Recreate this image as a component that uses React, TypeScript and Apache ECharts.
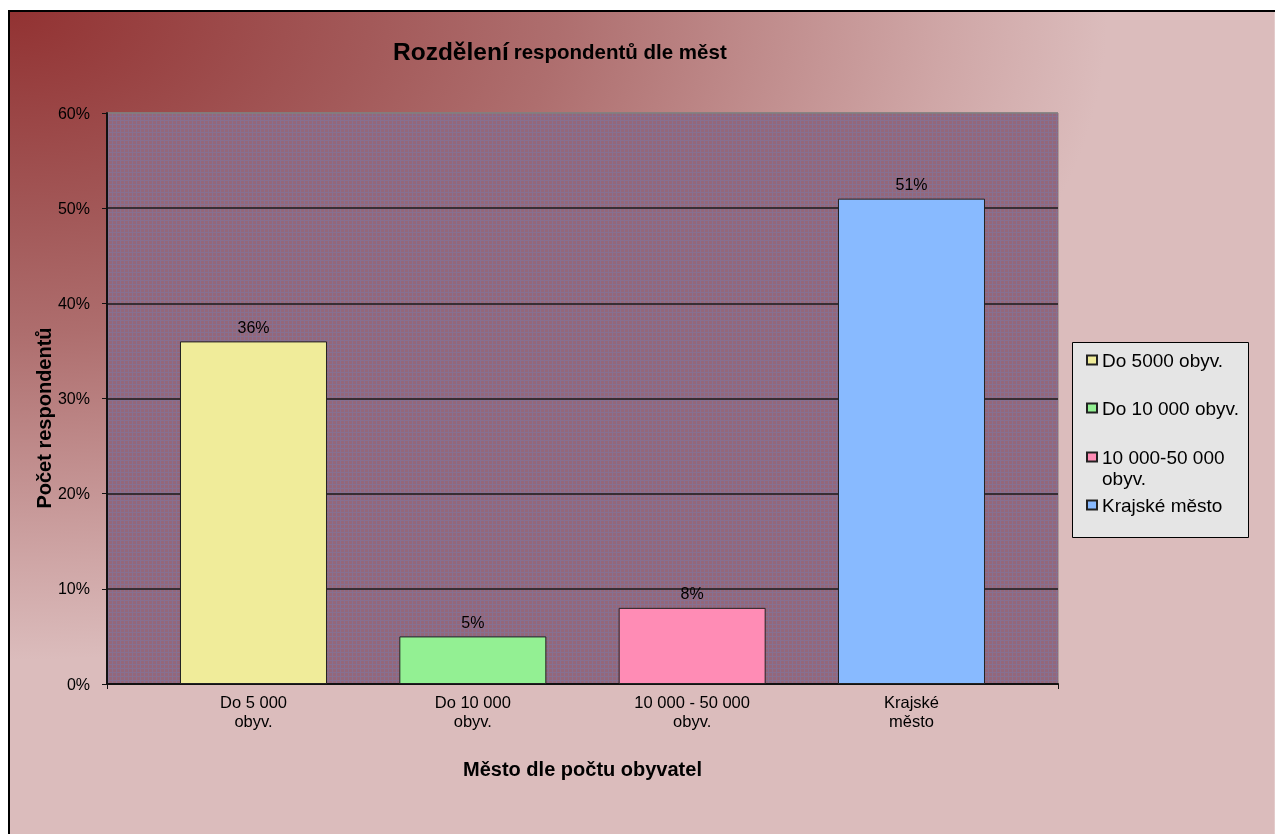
import React, { useEffect, useRef } from "react";
import * as echarts from "echarts";

// Category labels under the bars
const categories = ["Do 5 000\nobyv.", "Do 10 000\nobyv.", "10 000 - 50 000\nobyv.", "Krajské\nměsto"];
// Legend / series names
const seriesNames = ["Do 5000 obyv.", "Do 10 000 obyv.", "10 000-50 000 obyv.", "Krajské město"];
// Share of respondents, in percent
const shares = [36, 5, 8, 51];
const barColors = ["#F0EC9A", "#93F093", "#FF8CB5", "#88BAFF"];
// Value axis range and step (percent)
const yMin = 0;
const yMax = 60;
const yStep = 10;

const FONT = "'Liberation Sans', Arial, Helvetica, sans-serif";
const W = 1267;
const H = 826;

// Plot rectangle (chart pixels)
const PLOT = { left: 99, top: 105, width: 951, height: 571 };

// Legend item tops (one legend per item so the spacing can follow the boxed layout)
const legendTops = [341.5, 389.5, 438.5, 486.5];

// Square marker whose box is stretched downward by a trailing move-to, so the
// square sits beside the first line of a two-line legend label.
const TALL_ICON = "path://M0,0L10,0L10,9L0,9Z M0,30";

// Small tile for the fine cross-hatched plot fill
function makeHatchTile(): string {
  const c = document.createElement("canvas");
  c.width = 4;
  c.height = 4;
  const g = c.getContext("2d");
  if (!g) return "";
  g.fillStyle = "#94677a";
  g.fillRect(0, 0, 4, 4);
  g.fillStyle = "#867091";
  g.fillRect(0, 0, 4, 1);
  g.fillRect(0, 0, 1, 4);
  return c.toDataURL();
}

export default function App() {
  const ref = useRef<HTMLDivElement>(null);

  useEffect(() => {
    if (!ref.current) return;
    const chart = echarts.init(ref.current, undefined, { renderer: "svg" });

    const SX = 1100 / 650;
    const bgStops = [
      { offset: 0, color: "#923232" },
      { offset: 0.33, color: "#a35959" },
      { offset: 0.5, color: "#ae6e6e" },
      { offset: 0.85, color: "#cfa6a6" },
      { offset: 1, color: "#dbbcbc" },
    ];

    const tile = makeHatchTile();

    const series = seriesNames.map((name, i) => ({
      name,
      type: "bar",
      xAxisIndex: 0,
      yAxisIndex: 0,
      stack: "all",
      barWidth: 147,
      z: 3,
      data: categories.map((_, j) => (j === i ? shares[i] : "-")),
      itemStyle: { color: barColors[i], borderColor: "#222", borderWidth: 1 },
      label: {
        show: true,
        position: "top",
        distance: 6,
        color: "#000",
        fontSize: 16,
        fontFamily: FONT,
        formatter: (p: any) => `${p.value}%`,
      },
    }));

    const legends = seriesNames.map((name, i) => {
      const twoLine = name === "10 000-50 000 obyv.";
      return {
        data: [name],
        orient: "vertical",
        left: 1078,
        top: legendTops[i],
        padding: 0,
        itemWidth: 10,
        itemHeight: twoLine ? 30 : 9,
        icon: twoLine ? TALL_ICON : "rect",
        selectedMode: false,
        z: 6,
        formatter: (n: string) => (n === "10 000-50 000 obyv." ? "10 000-50 000\nobyv." : n),
        textStyle: {
          fontSize: 19,
          fontFamily: FONT,
          color: "#000",
          lineHeight: 21,
        },
      };
    });

    chart.setOption({
      animation: false,
      title: {
        text: "{a|Rozdělení} {b|respondentů dle měst}",
        left: 385,
        top: 29,
        padding: 0,
        textStyle: {
          rich: {
            a: { fontSize: 24.5, fontWeight: "bold", fontFamily: FONT, color: "#000", lineHeight: 28 },
            b: { fontSize: 20.5, fontWeight: "bold", fontFamily: FONT, color: "#000", lineHeight: 28 },
          },
        },
      },
      legend: legends,
      graphic: [
        {
          type: "rect",
          z: -5,
          silent: true,
          x: 0,
          y: 2,
          scaleX: SX,
          shape: { x: 0, y: 0, width: W / SX, height: H },
          style: { fill: new echarts.graphic.RadialGradient(0, 0, 650, bgStops, true) },
        },
        {
          type: "rect",
          z: 1,
          silent: true,
          shape: { x: PLOT.left, y: PLOT.top, width: PLOT.width, height: PLOT.height },
          style: tile ? { fill: { image: tile, repeat: "repeat" } } : { fill: "#8d6b84" },
        },
        {
          type: "rect",
          z: 3,
          silent: true,
          shape: { x: 1064.5, y: 334.5, width: 176, height: 195 },
          style: { fill: "#e5e5e5", stroke: "#000", lineWidth: 1 },
        },
        {
          type: "rect",
          z: 10,
          silent: true,
          shape: { x: 1, y: 3, width: W + 40, height: H + 40 },
          style: { fill: "none", stroke: "#000", lineWidth: 2 },
        },
        {
          type: "text",
          z: 5,
          x: 36,
          y: 410,
          rotation: Math.PI / 2,
          style: {
            text: "Počet respondentů",
            fontSize: 20,
            fontWeight: "bold",
            fontFamily: FONT,
            fill: "#000",
            align: "center",
            verticalAlign: "middle",
          },
        },
        {
          type: "text",
          z: 5,
          x: 574.5,
          y: 761,
          style: {
            text: "Město dle počtu obyvatel",
            fontSize: 20,
            fontWeight: "bold",
            fontFamily: FONT,
            fill: "#000",
            align: "center",
            verticalAlign: "middle",
          },
        },
      ],
      grid: [
        // bars
        { left: 135.83, top: PLOT.top, width: 877.33, height: PLOT.height },
        // plot frame, value axis and gridlines
        {
          left: PLOT.left,
          top: PLOT.top,
          width: PLOT.width,
          height: PLOT.height,
          show: true,
          z: 0,
          backgroundColor: "#8d6b84",
          borderColor: "#808080",
          borderWidth: 1,
        },
      ],
      xAxis: [
        {
          gridIndex: 0,
          type: "category",
          data: categories,
          axisLine: { show: false },
          axisTick: { show: false },
          axisLabel: {
            margin: 8,
            fontSize: 16.5,
            lineHeight: 19,
            color: "#000",
            fontFamily: FONT,
            interval: 0,
          },
        },
        {
          gridIndex: 1,
          type: "category",
          data: [""],
          z: 2,
          boundaryGap: true,
          axisLine: { show: true, lineStyle: { color: "#111", width: 2 } },
          axisTick: { show: true, length: 5, lineStyle: { color: "#111", width: 1 } },
          axisLabel: { show: false },
        },
      ],
      yAxis: [
        {
          gridIndex: 0,
          type: "value",
          min: yMin,
          max: yMax,
          interval: yStep,
          show: false,
          splitLine: { show: false },
        },
        {
          gridIndex: 1,
          type: "value",
          min: yMin,
          max: yMax,
          interval: yStep,
          z: 2,
          axisLine: { show: true, lineStyle: { color: "#111", width: 2 } },
          axisTick: { show: true, length: 5, lineStyle: { color: "#111", width: 1 } },
          axisLabel: {
            margin: 17,
            fontSize: 16,
            color: "#000",
            fontFamily: FONT,
            formatter: "{value}%",
          },
          splitLine: {
            show: true,
            lineStyle: {
              color: ["#1a1a1a", "#1a1a1a", "#1a1a1a", "#1a1a1a", "#1a1a1a", "#1a1a1a", "#808080"],
              width: 1.5,
            },
          },
        },
      ],
      series,
    });

    return () => chart.dispose();
  }, []);

  return (
    <div style={{ position: "fixed", left: 8, top: 8, width: W, height: H, overflow: "hidden" }}>
      <div ref={ref} style={{ width: W, height: H }} />
    </div>
  );
}
